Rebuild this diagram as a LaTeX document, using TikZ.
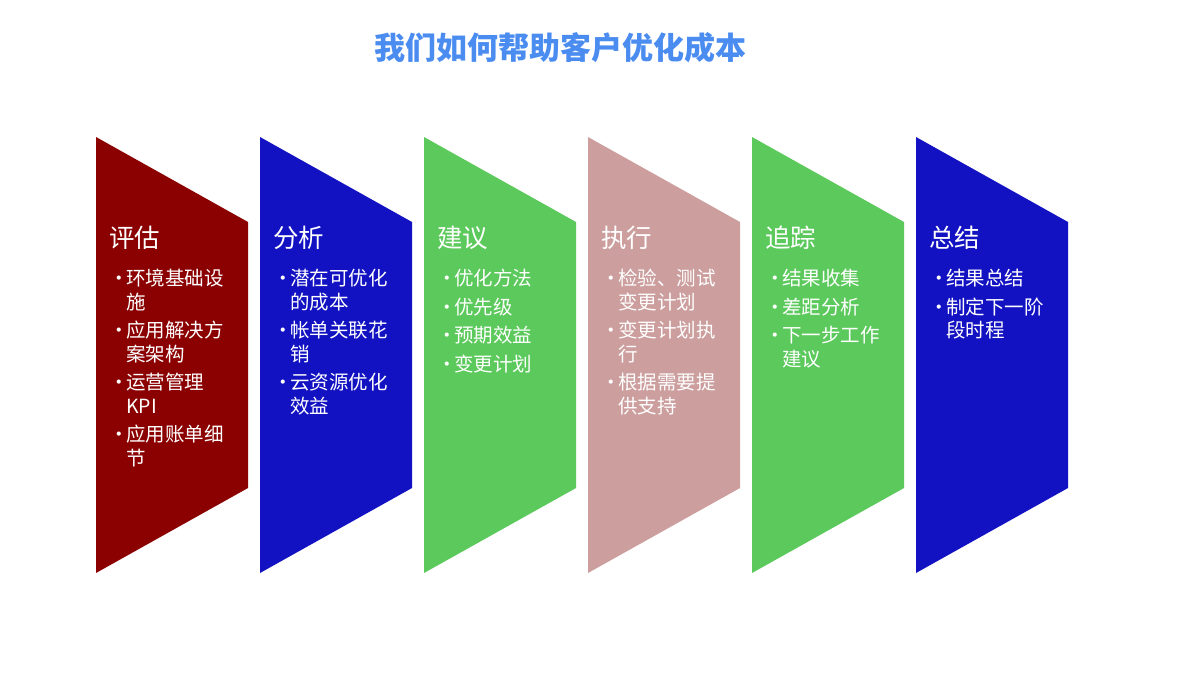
\documentclass[tikz,border=0pt]{standalone}
\usepackage{fontspec}
\setmainfont{Noto Sans CJK SC}
\begin{document}
\begin{tikzpicture}[x=1pt,y=-1pt]
\definecolor{cred}{HTML}{8B0000}
\definecolor{cblue}{HTML}{1212C2}
\definecolor{cgreen}{HTML}{5BC95B}
\definecolor{cpink}{HTML}{CC9E9E}
\definecolor{ctitle}{HTML}{4A8CF0}
\useasboundingbox (0,0) rectangle (1200,675);
\tikzset{
 head/.style={anchor=base west,text=white,font=\fontsize{25.5}{30}\selectfont,inner sep=0},
 items/.style={anchor=north west,text=white,font=\fontsize{19.5}{23.5}\selectfont,inner sep=0,align=left},
}
\newcommand{\panelshape}[2]{\fill[#2] (#1,137) -- (#1+152,222) -- (#1+152,488) -- (#1,573) -- cycle;}
\newcommand{\bl}{\makebox[18pt][l]{\hspace{1pt}•}}
\newcommand{\ind}{\hspace*{18pt}}
\node[font=\bfseries\fontsize{31}{36}\selectfont,text=ctitle] (title) at (560,48) {我们如何帮助客户优化成本};
\panelshape{96}{cred}
\panelshape{260}{cblue}
\panelshape{424}{cgreen}
\panelshape{588}{cpink}
\panelshape{752}{cgreen}
\panelshape{916}{cblue}
\node[head] (h1) at (109,247) {评估};
\node[head] (h2) at (273,247) {分析};
\node[head] (h3) at (437,247) {建议};
\node[head] (h4) at (601,247) {执行};
\node[head] (h5) at (765,247) {追踪};
\node[head] (h6) at (929,247) {总结};
\node[items] (t1) at (108,269) {\bl 环境基础设\\\ind 施\\[5pt]\bl 应用解决方\\\ind 案架构\\[5pt]\bl 运营管理\\\ind KPI\\[5pt]\bl 应用账单细\\\ind 节};
\node[items] (t2) at (272,269) {\bl 潜在可优化\\\ind 的成本\\[5pt]\bl 帐单关联花\\\ind 销\\[5pt]\bl 云资源优化\\\ind 效益};
\node[items] (t3) at (436,269) {\bl 优化方法\\[5pt]\bl 优先级\\[5pt]\bl 预期效益\\[5pt]\bl 变更计划};
\node[items] (t4) at (600,269) {\bl 检验、测试\\\ind 变更计划\\[5pt]\bl 变更计划执\\\ind 行\\[5pt]\bl 根据需要提\\\ind 供支持};
\node[items] (t5) at (764,269) {\bl 结果收集\\[5pt]\bl 差距分析\\[5pt]\bl 下一步工作\\\ind 建议};
\node[items] (t6) at (928,269) {\bl 结果总结\\[5pt]\bl 制定下一阶\\\ind 段时程};
\end{tikzpicture}
\end{document}
